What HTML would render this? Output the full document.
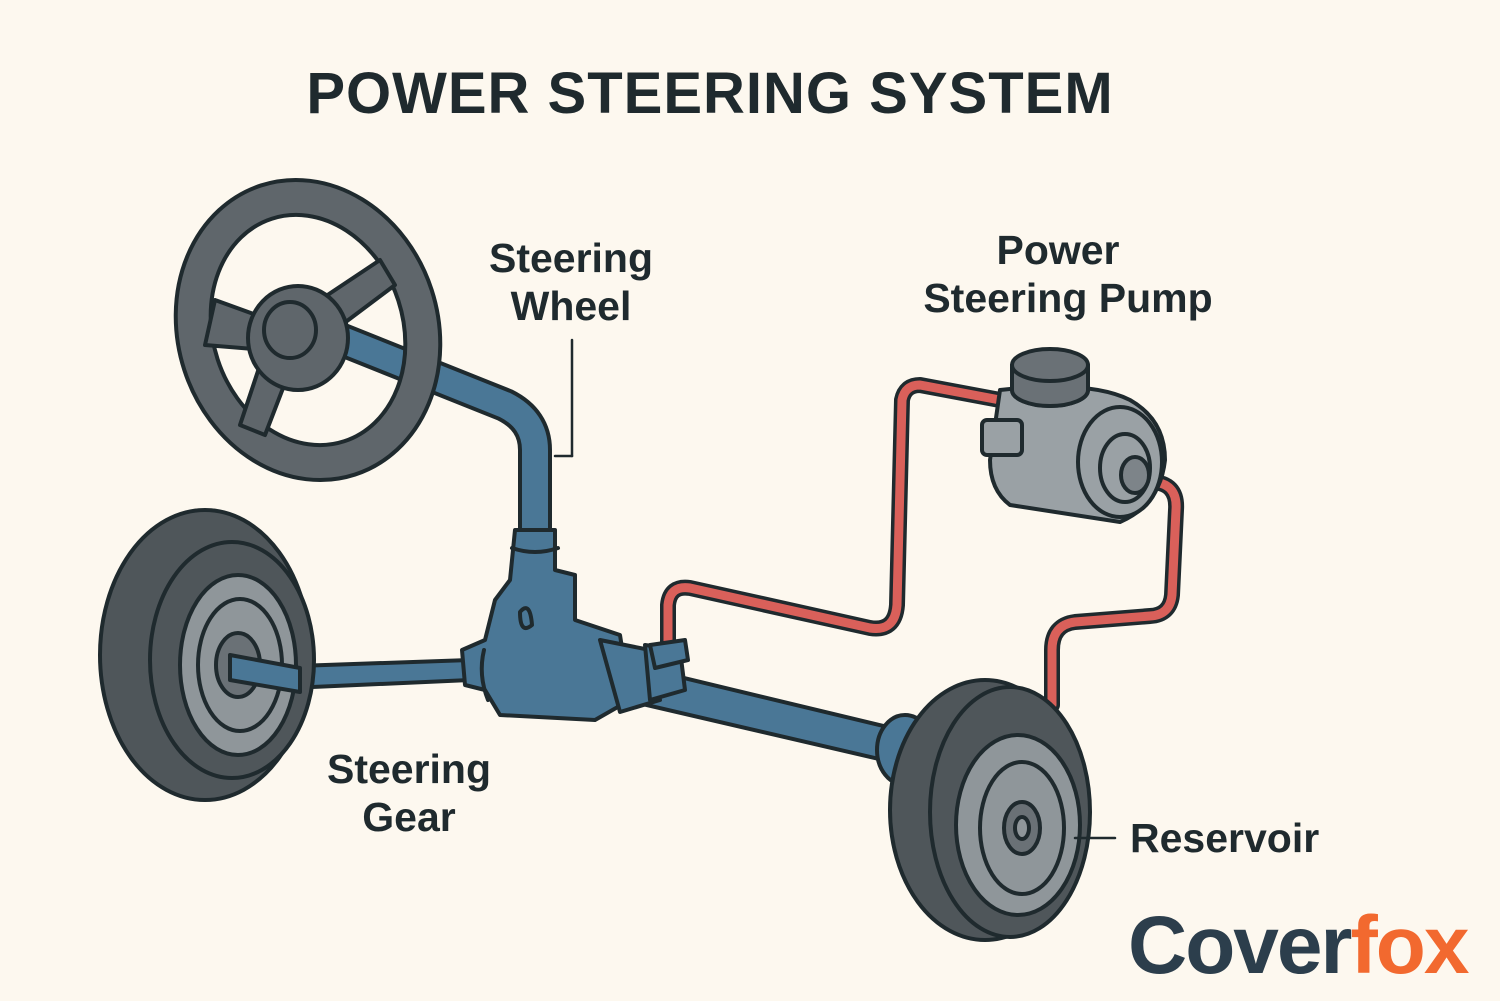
<!DOCTYPE html>
<html><head><meta charset="utf-8"><style>
html,body{margin:0;padding:0;background:#fdf8ef;}
svg{display:block}
text{font-family:"Liberation Sans",sans-serif;font-weight:bold;fill:#1f2a2e}
</style></head><body>
<svg width="1500" height="1001" viewBox="0 0 1500 1001">
<rect width="1500" height="1001" fill="#fdf8ef"/>
<text x="710" y="113" font-size="58" text-anchor="middle" letter-spacing="1">POWER STEERING SYSTEM</text>

<g stroke="#1f2a2e" stroke-width="4" stroke-linejoin="round" stroke-linecap="round">
<path d="M330 335 L505 405 Q535 420 535 450 L535 540" fill="none" stroke="#1f2a2e" stroke-width="34"/>
<path d="M330 335 L505 405 Q535 420 535 450 L535 540" fill="none" stroke="#4a7796" stroke-width="26" stroke-linecap="butt"/>
<line x1="572" y1="340" x2="572" y2="456" stroke-width="2.5"/>
<line x1="572" y1="456" x2="555" y2="456" stroke-width="2.5"/>

<g transform="rotate(-18 308 330)">
<path fill-rule="evenodd" fill="#5f666b" d="M178 330 a130 152 0 1 0 260 0 a130 152 0 1 0 -260 0 Z M213 330 a95 117 0 1 0 190 0 a95 117 0 1 0 -190 0 Z"/>
</g>
<path d="M215 300 L270 320 L265 350 L205 345 Z" fill="#5f666b"/>
<path d="M260 365 L290 370 L265 435 L240 425 Z" fill="#5f666b"/>
<path d="M320 300 L380 260 L395 285 L335 330 Z" fill="#5f666b"/>
<ellipse cx="298" cy="338" rx="50" ry="52" fill="#5f666b"/>
<ellipse cx="290" cy="330" rx="26" ry="28" fill="#5f666b"/>

<path d="M240 668 L470 660 L470 680 L245 690 Z" fill="#4a7796"/>
<ellipse cx="205" cy="655" rx="105" ry="145" fill="#4f565a"/>
<ellipse cx="232" cy="660" rx="82" ry="118" fill="#4f565a"/>
<ellipse cx="238" cy="665" rx="58" ry="90" fill="#8f969a"/>
<ellipse cx="240" cy="665" rx="42" ry="66" fill="#8f969a"/>
<ellipse cx="238" cy="665" rx="22" ry="32" fill="#6a7176"/>
<path d="M230 655 L300 668 L300 692 L230 680 Z" fill="#4a7796"/>

<path d="M630 665 L900 730 L892 762 L625 700 Z" fill="#4a7796"/>

<path d="M515 530 L555 530 L555 570 L575 575 L575 620 L620 635 L630 700 L595 720 L500 715 L485 690 L465 685 L462 650 L485 640 L495 600 L510 580 Z" fill="#4a7796"/>
<path d="M512 548 Q535 556 558 548" fill="none"/>
<path d="M520 612 Q530 600 532 625 Q520 635 520 612 Z" fill="none"/>
<path d="M600 640 L650 650 L660 700 L620 712 Z" fill="#4a7796"/>
<path d="M645 645 L680 650 L685 690 L650 700 Z" fill="#4a7796"/>
<path d="M484 650 Q478 675 488 700" fill="none"/>

<path d="M668 648 L668 605 Q670 585 690 588 L870 628 Q895 632 897 605 L902 400 Q905 385 920 385 L1000 400" fill="none" stroke-width="16"/>
<path d="M668 648 L668 605 Q670 585 690 588 L870 628 Q895 632 897 605 L902 400 Q905 385 920 385 L1000 400" fill="none" stroke="#d9605a" stroke-width="9"/>
<path d="M1150 482 Q1178 482 1176 510 L1172 595 Q1170 615 1150 616 L1075 622 Q1052 625 1052 650 L1052 705" fill="none" stroke-width="16"/>
<path d="M1150 482 Q1178 482 1176 510 L1172 595 Q1170 615 1150 616 L1075 622 Q1052 625 1052 650 L1052 705" fill="none" stroke="#d9605a" stroke-width="9"/>
<path d="M650 645 L685 640 L688 660 L655 668 Z" fill="#4a7796"/>

<path d="M1000 390 Q1090 380 1130 400 Q1165 420 1165 460 Q1160 505 1120 522 L1010 505 Q990 490 990 460 Z" fill="#9aa1a5"/>
<ellipse cx="1120" cy="462" rx="42" ry="55" fill="#9aa1a5"/>
<ellipse cx="1125" cy="468" rx="25" ry="34" fill="#9aa1a5"/>
<ellipse cx="1135" cy="475" rx="14" ry="18" fill="#7d8489"/>
<rect x="982" y="420" width="40" height="35" rx="5" fill="#9aa1a5"/>
<ellipse cx="1050" cy="390" rx="38" ry="16" fill="#6a7176"/>
<path d="M1012 365 L1012 390 A38 16 0 0 0 1088 390 L1088 365" fill="#6a7176"/>
<ellipse cx="1050" cy="365" rx="38" ry="16" fill="#6a7176"/>

<ellipse cx="905" cy="750" rx="28" ry="35" fill="#4a7796"/>
<ellipse cx="985" cy="810" rx="95" ry="130" fill="#4f565a"/>
<ellipse cx="1010" cy="812" rx="80" ry="125" fill="#4f565a"/>
<ellipse cx="1018" cy="825" rx="62" ry="90" fill="#8f969a"/>
<ellipse cx="1022" cy="828" rx="42" ry="66" fill="#8f969a"/>
<ellipse cx="1022" cy="828" rx="18" ry="26" fill="#6a7176"/>
<ellipse cx="1022" cy="828" rx="7" ry="11" fill="#8f969a"/>
<line x1="1075" y1="838" x2="1115" y2="838" stroke-width="2.5"/>
</g>

<text x="571" y="272" font-size="41" text-anchor="middle">Steering</text>
<text x="571" y="320" font-size="41" text-anchor="middle">Wheel</text>
<text x="1058" y="264" font-size="41" text-anchor="middle">Power</text>
<text x="1068" y="312" font-size="41" text-anchor="middle">Steering Pump</text>
<text x="409" y="783" font-size="41" text-anchor="middle">Steering</text>
<text x="409" y="831" font-size="41" text-anchor="middle">Gear</text>
<text x="1130" y="852" font-size="41">Reservoir</text>
<text x="1128" y="973" font-size="82" style="fill:#2c3e4c" letter-spacing="-2">Cover<tspan style="fill:#f2692f">fox</tspan></text>
</svg>
</body></html>
